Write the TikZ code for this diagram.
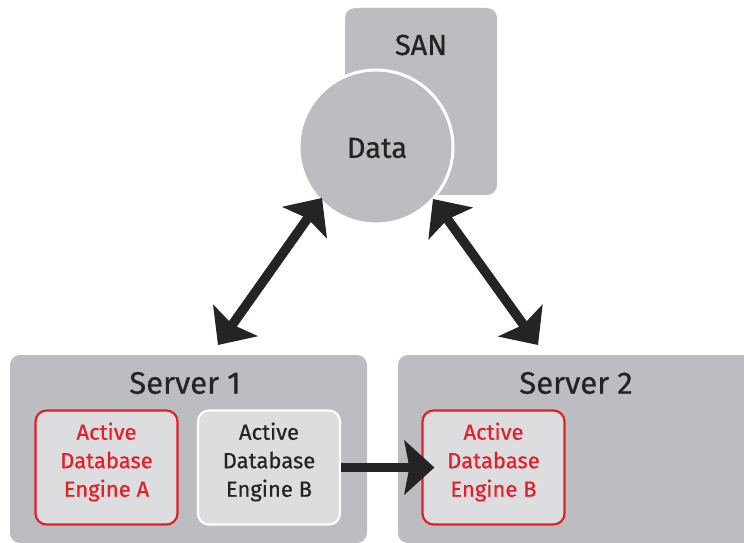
\documentclass[tikz,border=0pt]{standalone}
\usepackage{fontspec}
\setmainfont{Fira Sans}[FakeBold=0.6]
\usetikzlibrary{arrows.meta}
\definecolor{boxgray}{HTML}{BCBDC1}
\definecolor{innergray}{HTML}{DCDDDF}
\definecolor{engred}{HTML}{E2202B}
\definecolor{txtdark}{HTML}{262324}
\tikzset{
  outerbox/.style={rectangle, rounded corners=10pt, fill=boxgray, inner sep=0pt},
  enginebox/.style={rectangle, rounded corners=11pt, fill=innergray, line width=2.2pt,
     minimum width=142pt, minimum height=114pt, inner sep=0pt},
  redeng/.style={enginebox, draw=engred},
  whiteeng/.style={enginebox, draw=white},
  englabel/.style={align=center, font=\fontsize{22}{28.5}\selectfont},
  biglabel/.style={font=\fontsize{31}{34}\selectfont, text=txtdark},
  bigarrow/.style={line width=9.5pt, draw=txtdark,
     arrows={Stealth[length=30pt,width=54pt,inset=5pt]-Stealth[length=30pt,width=54pt,inset=5pt]}},
  onearrow/.style={line width=9.5pt, draw=txtdark,
     arrows={-Stealth[length=30pt,width=54pt,inset=5pt]}}
}
\begin{document}
\begin{tikzpicture}[x=1pt,y=-1pt]
\useasboundingbox (0,0) rectangle (744,543);
\begin{scope}
\clip (0,0) rectangle (744,543);
% SAN
\node[outerbox, minimum width=152pt, minimum height=187pt] (san) at (421,101.5) {};
\node[biglabel, font=\fontsize{29}{34}\selectfont] (santxt) at (421,45) {SAN};
\node[circle, fill=boxgray, draw=white, line width=3pt, minimum size=154pt, inner sep=0pt] (data) at (376,147) {};
\node[biglabel, font=\fontsize{29}{34}\selectfont] (datatxt) at (377,148) {Data};
% servers
\node[outerbox, minimum width=357pt, minimum height=188pt] (srv1) at (188.5,449) {};
\node[outerbox, minimum width=362pt, minimum height=188pt] (srv2) at (579,449) {};
\node[biglabel] (srv1txt) at (185,383) {Server 1};
\node[biglabel] (srv2txt) at (576,383) {Server 2};
% engines
\node[redeng] (enga) at (106.5,467.5) {};
\node[englabel, text=engred] (engatxt) at (106.5,462) {Active\\Database\\Engine A};
\node[whiteeng] (engb1) at (269,467.5) {};
\node[englabel, text=txtdark] (engb1txt) at (269,462) {Active\\Database\\Engine B};
\node[redeng] (engb2) at (493.5,467.5) {};
\node[englabel, text=engred] (engb2txt) at (493.5,462) {Active\\Database\\Engine B};
% arrows
\coordinate (l1) at (218,345);
\coordinate (l2) at (322,198);
\coordinate (r1) at (433,199);
\coordinate (r2) at (538,345);
\draw[bigarrow] (l1) -- (l2);
\draw[bigarrow] (r1) -- (r2);
\draw[onearrow] (engb1.east) -- ([xshift=13pt]engb2.west);
\end{scope}
\end{tikzpicture}
\end{document}
